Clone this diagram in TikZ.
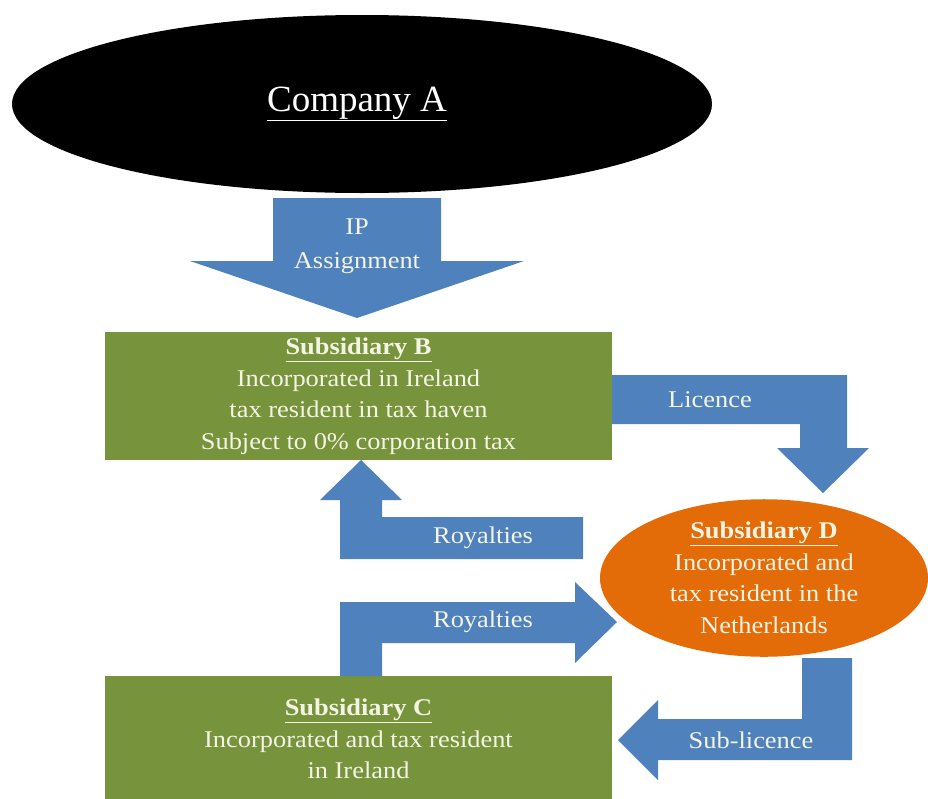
\documentclass[tikz,border=0pt]{standalone}
\usepackage{fontspec}
\setmainfont{Liberation Serif}[FakeStretch=1.1]
\newfontfamily\timesA{Liberation Serif}
\usetikzlibrary{shapes.geometric}
\definecolor{arrowblue}{HTML}{4F81BD}
\definecolor{boxgreen}{HTML}{77933C}
\definecolor{dorange}{HTML}{E36C09}
\definecolor{cream}{HTML}{F4F4E4}
\tikzset{
  x=1pt, y=-1pt,
  flowarrow/.style={fill=arrowblue, draw=none},
  subbox/.style={rectangle, fill=boxgreen, draw=none, text=cream, align=center, inner sep=0pt,
     font=\fontsize{24}{31.5}\selectfont},
  lbl/.style={text=cream, inner sep=0pt, align=center, font=\fontsize{24}{34}\selectfont},
}
\begin{document}
\begin{tikzpicture}
\useasboundingbox (0,0) rectangle (928,798);
% Company A
\node[ellipse, fill=black, draw=none, minimum width=700pt, minimum height=178pt, inner sep=0pt,
      text=white, font=\timesA\fontsize{37}{40}\selectfont] (A) at (362,104) {\underline{Company A}\hspace*{10pt}};
% Subsidiary B
\node[subbox, minimum width=507pt, minimum height=128pt] (B) at (358.5,396)
  {\textbf{\underline{Subsidiary B}}\\Incorporated in Ireland\\tax resident in tax haven\\Subject to 0\% corporation tax};
% Subsidiary C
\node[subbox, minimum width=507pt, minimum height=126pt] (C) at (358.5,739)
  {\textbf{\underline{Subsidiary C}}\\Incorporated and tax resident\\in Ireland};
% Subsidiary D
\node[ellipse, fill=dorange, draw=none, minimum width=328pt, minimum height=152pt, inner sep=0pt,
      text=cream, align=center, font=\fontsize{24}{31.5}\selectfont] (D) at (764,578)
  {\textbf{\underline{Subsidiary D}}\\Incorporated and\\tax resident in the\\Netherlands};
% IP assignment arrow
\fill[flowarrow] (273,198) -- (441,198) -- (441,261) -- (524,261) -- (357,318) -- (190,261) -- (273,261) -- cycle;
\node[lbl] (ip) at (357,246) {IP\\Assignment};
% Licence arrow
\fill[flowarrow] (612,375) -- (847,375) -- (847,448) -- (869,448) -- (823,493) -- (777,448) -- (800,448) -- (800,424) -- (612,424) -- cycle;
\node[lbl] (lic) at (710,400) {Licence};
% Royalties to B
\fill[flowarrow] (583,517) -- (583,559) -- (340,559) -- (340,500) -- (320,500) -- (361,460) -- (402,500) -- (382,500) -- (382,517) -- cycle;
\node[lbl] (roy1) at (483,538) {Royalties};
% Royalties to D
\fill[flowarrow] (340,676) -- (340,602) -- (575,602) -- (575,582) -- (617,622) -- (575,663) -- (575,643) -- (382,643) -- (382,676) -- cycle;
\node[lbl] (roy2) at (483,622) {Royalties};
% Sub-licence
\fill[flowarrow] (802,658) -- (852,658) -- (852,760) -- (658,760) -- (658,780) -- (618,740) -- (658,700) -- (658,719) -- (802,719) -- cycle;
\node[lbl] (sub) at (751,740) {Sub-licence};
\end{tikzpicture}
\end{document}
